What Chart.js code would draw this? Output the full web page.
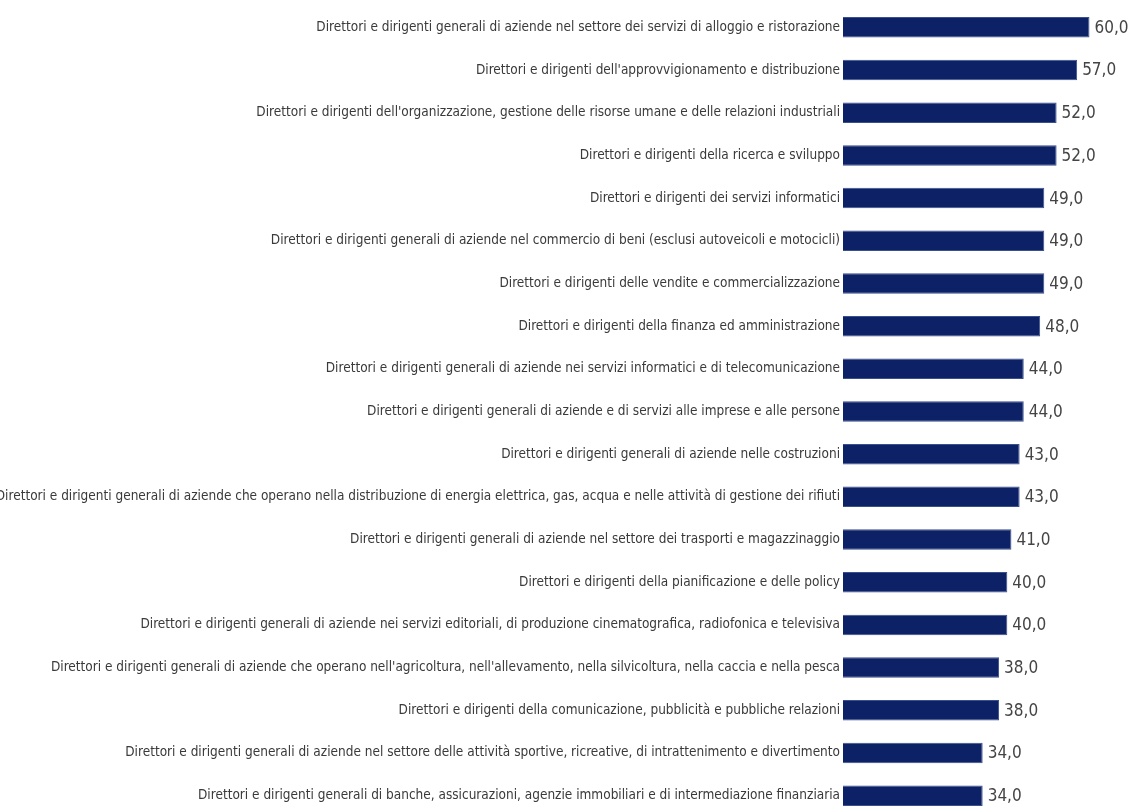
<!DOCTYPE html>
<html>
<head>
<meta charset="utf-8">
<script src="https://cdn.jsdelivr.net/npm/chart.js@4"></script>
<style>
  html, body { margin: 0; padding: 0; background: #fff; overflow: hidden; }
  #wrap { position: relative; width: 1133px; height: 824px; }
</style>
</head>
<body>
<div id="wrap"><canvas id="chart"></canvas></div>
<script>
// Retribuzione (valori) per professione dirigenziale
const labels = [
    "Direttori e dirigenti generali di aziende nel settore dei servizi di alloggio e ristorazione",
    "Direttori e dirigenti dell'approvvigionamento e distribuzione",
    "Direttori e dirigenti dell'organizzazione, gestione delle risorse umane e delle relazioni industriali",
    "Direttori e dirigenti della ricerca e sviluppo",
    "Direttori e dirigenti dei servizi informatici",
    "Direttori e dirigenti generali di aziende nel commercio di beni (esclusi autoveicoli e motocicli)",
    "Direttori e dirigenti delle vendite e commercializzazione",
    "Direttori e dirigenti della finanza ed amministrazione",
    "Direttori e dirigenti generali di aziende nei servizi informatici e di telecomunicazione",
    "Direttori e dirigenti generali di aziende e di servizi alle imprese e alle persone",
    "Direttori e dirigenti generali di aziende nelle costruzioni",
    "Direttori e dirigenti generali di aziende che operano nella distribuzione di energia elettrica, gas, acqua e nelle attività di gestione dei rifiuti",
    "Direttori e dirigenti generali di aziende nel settore dei trasporti e magazzinaggio",
    "Direttori e dirigenti della pianificazione e delle policy",
    "Direttori e dirigenti generali di aziende nei servizi editoriali, di produzione cinematografica, radiofonica e televisiva",
    "Direttori e dirigenti generali di aziende che operano nell'agricoltura, nell'allevamento, nella silvicoltura, nella caccia e nella pesca",
    "Direttori e dirigenti della comunicazione, pubblicità e pubbliche relazioni",
    "Direttori e dirigenti generali di aziende nel settore delle attività sportive, ricreative, di intrattenimento e divertimento",
    "Direttori e dirigenti generali di banche, assicurazioni, agenzie immobiliari e di intermediazione finanziaria"
];
const values = [60, 57, 52, 52, 49, 49, 49, 48, 44, 44, 43, 43, 41, 40, 40, 38, 38, 34, 34];

const labelFont = "'Liberation Sans Narrow', 'DejaVu Sans Condensed', sans-serif";

// value labels at the end of each bar
const valueLabels = {
    id: 'valueLabels',
    afterDatasetsDraw(chart) {
        const ctx = chart.ctx;
        const meta = chart.getDatasetMeta(0);
        ctx.save();
        ctx.font = '17px ' + labelFont;
        ctx.fillStyle = '#444';
        ctx.textAlign = 'left';
        ctx.textBaseline = 'middle';
        meta.data.forEach((bar, i) => {
            ctx.fillText(values[i].toFixed(1).replace('.', ','), bar.x + 5, bar.y + 1);
        });
        ctx.restore();
    }
};

new Chart(document.getElementById('chart'), {
    type: 'bar',
    data: {
        labels: labels,
        datasets: [{
            data: values,
            backgroundColor: '#0d2167',
            borderColor: '#3a4f8c',
            borderWidth: 1,
            barPercentage: 0.96,
            categoryPercentage: 0.5
        }]
    },
    options: {
        indexAxis: 'y',
        responsive: true,
        maintainAspectRatio: false,
        animation: false,
        layout: { padding: { top: 6, right: 23, bottom: 7, left: 0 } },
        plugins: {
            legend: { display: false },
            tooltip: { enabled: false }
        },
        scales: {
            x: {
                display: false,
                min: 0,
                max: 65
            },
            y: {
                afterFit(scale) {
                    scale.width = 843;
                    scale.paddingTop = 0;
                    scale.paddingBottom = 0;
                },
                grid: { display: false, drawTicks: false },
                border: { display: false },
                ticks: {
                    padding: 3,
                    color: '#3a3a3a',
                    autoSkip: false,
                    font: { family: labelFont, size: 13.5 }
                }
            }
        }
    },
    plugins: [valueLabels]
});
</script>
</body>
</html>
